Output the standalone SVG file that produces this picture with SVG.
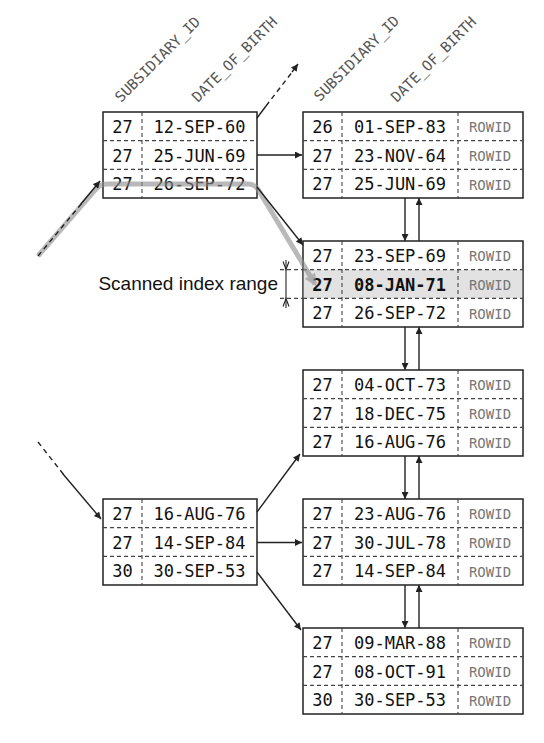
<svg xmlns="http://www.w3.org/2000/svg" width="544" height="743" viewBox="0 0 544 743">
<defs>
<style>
.box{fill:#fff;stroke:#222;stroke-width:1.5}
.dv{stroke:#444;stroke-width:1.1;stroke-dasharray:4 3;fill:none}
.t{font-family:"DejaVu Sans Mono",monospace;font-size:17px;fill:#111;text-anchor:middle}
.b{font-weight:bold}
.r{font-family:"DejaVu Sans Mono",monospace;font-size:14px;fill:#777;text-anchor:middle}
.h{font-family:"DejaVu Sans Mono",monospace;font-size:14.5px;fill:#555}
.c{stroke:#222;stroke-width:1.4;fill:none}
.cd{stroke:#222;stroke-width:1.4;fill:none;stroke-dasharray:5 4}
.g{stroke:#8c8c8c;stroke-width:5;fill:none;opacity:0.6;stroke-linejoin:round}
.lbl{font-family:"Liberation Sans",Arial,sans-serif;font-size:19px;fill:#111;text-anchor:end}
</style>
<marker id="ah" viewBox="0 0 10 10" refX="10" refY="5" markerWidth="9" markerHeight="7" markerUnits="userSpaceOnUse" orient="auto"><path d="M0,0 L10,5 L0,10 z" fill="#222"/></marker>
<marker id="gh" viewBox="0 0 10 10" refX="8" refY="5" markerWidth="14" markerHeight="12" markerUnits="userSpaceOnUse" orient="auto"><path d="M0,0 L10,5 L0,10 z" fill="#8c8c8c"/></marker>
</defs>
<rect width="544" height="743" fill="#fff"/>

<g id="node-b1" transform="translate(103,112)">
<rect class="box" x="0" y="0" width="154" height="86"/>
<line class="dv" x1="0" y1="28.67" x2="154" y2="28.67"/>
<line class="dv" x1="0" y1="57.33" x2="154" y2="57.33"/>
<line class="dv" x1="39" y1="0" x2="39" y2="86"/>
<text class="t" x="19.5" y="20.5">27</text><text class="t" x="96.5" y="20.5">12-SEP-60</text>
<text class="t" x="19.5" y="49.5">27</text><text class="t" x="96.5" y="49.5">25-JUN-69</text>
<text class="t" x="19.5" y="78">27</text><text class="t" x="96.5" y="78">26-SEP-72</text>
<text class="h" transform="translate(18,-9) rotate(-45)">SUBSIDIARY_ID</text>
<text class="h" transform="translate(95,-9) rotate(-45)">DATE_OF_BIRTH</text>
</g>

<g id="node-b2" transform="translate(103,499)">
<rect class="box" x="0" y="0" width="154" height="86"/>
<line class="dv" x1="0" y1="28.67" x2="154" y2="28.67"/>
<line class="dv" x1="0" y1="57.33" x2="154" y2="57.33"/>
<line class="dv" x1="39" y1="0" x2="39" y2="86"/>
<text class="t" x="19.5" y="20.5">27</text><text class="t" x="96.5" y="20.5">16-AUG-76</text>
<text class="t" x="19.5" y="49.5">27</text><text class="t" x="96.5" y="49.5">14-SEP-84</text>
<text class="t" x="19.5" y="78">30</text><text class="t" x="96.5" y="78">30-SEP-53</text>
</g>

<g id="leaf1" transform="translate(303,112)">
<rect class="box" x="0" y="0" width="220" height="86"/>
<line class="dv" x1="0" y1="28.67" x2="220" y2="28.67"/>
<line class="dv" x1="0" y1="57.33" x2="220" y2="57.33"/>
<line class="dv" x1="39" y1="0" x2="39" y2="86"/>
<line class="dv" x1="155" y1="0" x2="155" y2="86"/>
<text class="t" x="19.5" y="20.5">26</text><text class="t" x="97" y="20.5">01-SEP-83</text><text class="r" x="187" y="20">ROWID</text>
<text class="t" x="19.5" y="49.5">27</text><text class="t" x="97" y="49.5">23-NOV-64</text><text class="r" x="187" y="49">ROWID</text>
<text class="t" x="19.5" y="78">27</text><text class="t" x="97" y="78">25-JUN-69</text><text class="r" x="187" y="77.5">ROWID</text>
<text class="h" transform="translate(17,-10) rotate(-45)">SUBSIDIARY_ID</text>
<text class="h" transform="translate(94,-9) rotate(-45)">DATE_OF_BIRTH</text>
</g>

<g id="leaf2" transform="translate(303,241)">
<rect class="box" x="0" y="0" width="220" height="86"/>
<rect x="0.75" y="28.67" width="218.5" height="28.67" fill="#e2e2e2"/>
<line class="dv" x1="0" y1="28.67" x2="220" y2="28.67"/>
<line class="dv" x1="0" y1="57.33" x2="220" y2="57.33"/>
<line class="dv" x1="39" y1="0" x2="39" y2="86"/>
<line class="dv" x1="155" y1="0" x2="155" y2="86"/>
<text class="t" x="19.5" y="20.5">27</text><text class="t" x="97" y="20.5">23-SEP-69</text><text class="r" x="187" y="20">ROWID</text>
<text class="t b" x="19.5" y="49.5">27</text><text class="t b" x="97" y="49.5">08-JAN-71</text><text class="r" x="187" y="49">ROWID</text>
<text class="t" x="19.5" y="78">27</text><text class="t" x="97" y="78">26-SEP-72</text><text class="r" x="187" y="77.5">ROWID</text>
</g>

<g id="leaf3" transform="translate(303,370)">
<rect class="box" x="0" y="0" width="220" height="86"/>
<line class="dv" x1="0" y1="28.67" x2="220" y2="28.67"/>
<line class="dv" x1="0" y1="57.33" x2="220" y2="57.33"/>
<line class="dv" x1="39" y1="0" x2="39" y2="86"/>
<line class="dv" x1="155" y1="0" x2="155" y2="86"/>
<text class="t" x="19.5" y="20.5">27</text><text class="t" x="97" y="20.5">04-OCT-73</text><text class="r" x="187" y="20">ROWID</text>
<text class="t" x="19.5" y="49.5">27</text><text class="t" x="97" y="49.5">18-DEC-75</text><text class="r" x="187" y="49">ROWID</text>
<text class="t" x="19.5" y="78">27</text><text class="t" x="97" y="78">16-AUG-76</text><text class="r" x="187" y="77.5">ROWID</text>
</g>

<g id="leaf4" transform="translate(303,499)">
<rect class="box" x="0" y="0" width="220" height="86"/>
<line class="dv" x1="0" y1="28.67" x2="220" y2="28.67"/>
<line class="dv" x1="0" y1="57.33" x2="220" y2="57.33"/>
<line class="dv" x1="39" y1="0" x2="39" y2="86"/>
<line class="dv" x1="155" y1="0" x2="155" y2="86"/>
<text class="t" x="19.5" y="20.5">27</text><text class="t" x="97" y="20.5">23-AUG-76</text><text class="r" x="187" y="20">ROWID</text>
<text class="t" x="19.5" y="49.5">27</text><text class="t" x="97" y="49.5">30-JUL-78</text><text class="r" x="187" y="49">ROWID</text>
<text class="t" x="19.5" y="78">27</text><text class="t" x="97" y="78">14-SEP-84</text><text class="r" x="187" y="77.5">ROWID</text>
</g>

<g id="leaf5" transform="translate(303,628)">
<rect class="box" x="0" y="0" width="220" height="86"/>
<line class="dv" x1="0" y1="28.67" x2="220" y2="28.67"/>
<line class="dv" x1="0" y1="57.33" x2="220" y2="57.33"/>
<line class="dv" x1="39" y1="0" x2="39" y2="86"/>
<line class="dv" x1="155" y1="0" x2="155" y2="86"/>
<text class="t" x="19.5" y="20.5">27</text><text class="t" x="97" y="20.5">09-MAR-88</text><text class="r" x="187" y="20">ROWID</text>
<text class="t" x="19.5" y="49.5">27</text><text class="t" x="97" y="49.5">08-OCT-91</text><text class="r" x="187" y="49">ROWID</text>
<text class="t" x="19.5" y="78">30</text><text class="t" x="97" y="78">30-SEP-53</text><text class="r" x="187" y="77.5">ROWID</text>
</g>

<g id="scanned-range">
<text class="lbl" x="278" y="290">Scanned index range</text>
<line class="dv" x1="280" y1="269.67" x2="303" y2="269.67"/>
<line class="dv" x1="280" y1="298.33" x2="303" y2="298.33"/>
<line x1="286" y1="260" x2="286" y2="308" stroke="#222" stroke-width="1.1"/>
<path d="M283,261.5 L286,269.5 L289,261.5" fill="none" stroke="#222" stroke-width="1.1"/>
<path d="M283,306.5 L286,298.5 L289,306.5" fill="none" stroke="#222" stroke-width="1.1"/>
</g>

<g id="connectors">
<path class="g" d="M38,256 L95,190 Q100,184 107,184 L248,184 Q255,184 259,191 L315,284" marker-end="url(#gh)"/>
<line class="cd" x1="38" y1="256" x2="82" y2="203"/>
<line class="c" x1="81" y1="204" x2="100" y2="181" marker-end="url(#ah)"/>
<line class="c" x1="257" y1="187" x2="303" y2="245" marker-end="url(#ah)"/>
<line class="c" x1="257" y1="118" x2="266" y2="106"/>
<line class="cd" x1="266" y1="106" x2="293" y2="71"/>
<line class="c" x1="292" y1="72" x2="298" y2="64" marker-end="url(#ah)"/>
<line class="c" x1="257" y1="155" x2="302" y2="155" marker-end="url(#ah)"/>
<line class="cd" x1="38" y1="442" x2="64" y2="475"/>
<line class="c" x1="63" y1="474" x2="101" y2="519" marker-end="url(#ah)"/>
<line class="c" x1="257" y1="512" x2="300" y2="454" marker-end="url(#ah)"/>
<line class="c" x1="257" y1="542.5" x2="302" y2="542.5" marker-end="url(#ah)"/>
<line class="c" x1="257" y1="572" x2="301" y2="630" marker-end="url(#ah)"/>
<line class="c" x1="405" y1="198" x2="405" y2="241" marker-end="url(#ah)"/>
<line class="c" x1="419" y1="241" x2="419" y2="198" marker-end="url(#ah)"/>
<line class="c" x1="405" y1="327" x2="405" y2="370" marker-end="url(#ah)"/>
<line class="c" x1="419" y1="370" x2="419" y2="327" marker-end="url(#ah)"/>
<line class="c" x1="405" y1="456" x2="405" y2="499" marker-end="url(#ah)"/>
<line class="c" x1="419" y1="499" x2="419" y2="456" marker-end="url(#ah)"/>
<line class="c" x1="405" y1="585" x2="405" y2="628" marker-end="url(#ah)"/>
<line class="c" x1="419" y1="628" x2="419" y2="585" marker-end="url(#ah)"/>
</g>
</svg>
